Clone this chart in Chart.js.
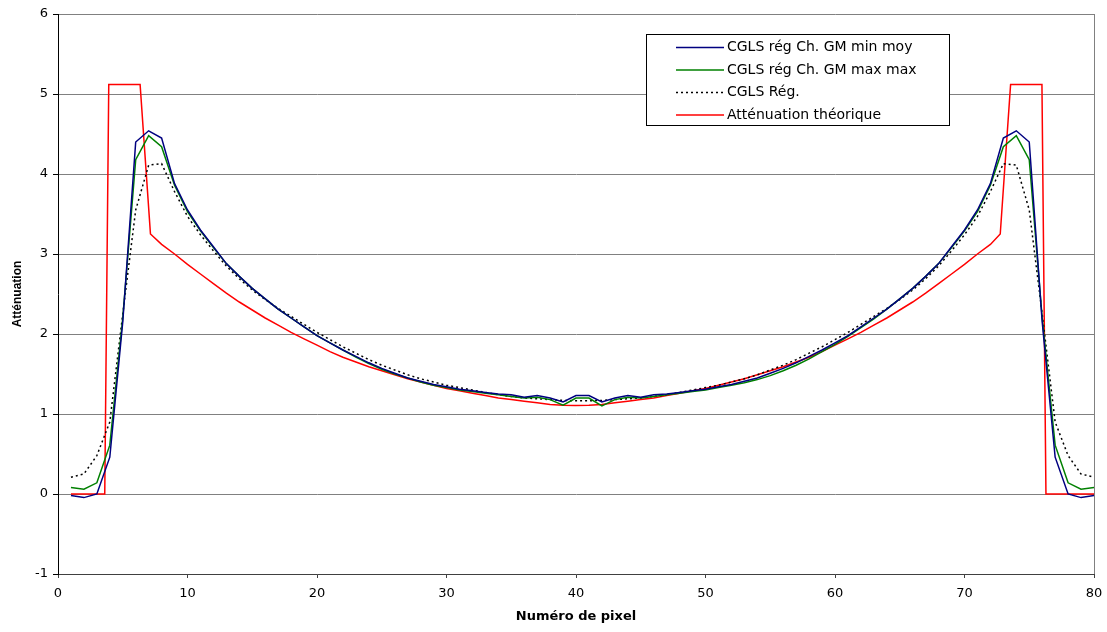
<!DOCTYPE html>
<html>
<head>
<meta charset="utf-8">
<script src="https://cdn.jsdelivr.net/npm/chart.js@4.4.1/dist/chart.umd.min.js"></script>
<style>
  html, body { margin: 0; padding: 0; background: #fff; }
  #wrap { width: 1107px; height: 632px; }
</style>
</head>
<body>
<div id="wrap"><canvas id="chart1" width="1107" height="632"></canvas></div>
<script>
// pixel numbers along the profile
var pixels = [1, 2, 3, 4, 5, 6, 7, 8, 9, 10, 11, 12, 13, 14, 15, 16, 17, 18, 19, 20,
  21, 22, 23, 24, 25, 26, 27, 28, 29, 30, 31, 32, 33, 34, 35, 36, 37, 38, 39, 40,
  41, 42, 43, 44, 45, 46, 47, 48, 49, 50, 51, 52, 53, 54, 55, 56, 57, 58, 59, 60,
  61, 62, 63, 64, 65, 66, 67, 68, 69, 70, 71, 72, 73, 74, 75, 76, 77, 78, 79, 80]

// CGLS rég Ch. GM min moy
var minMoy = [-0.02, -0.045, 0.0, 0.46, 2.15, 4.40, 4.54, 4.45, 3.88, 3.55,
  3.30, 3.09, 2.88, 2.72, 2.57, 2.44, 2.31, 2.20, 2.09, 1.98,
  1.89, 1.80, 1.72, 1.64, 1.57, 1.51, 1.45, 1.41, 1.37, 1.34,
  1.31, 1.29, 1.27, 1.25, 1.24, 1.21, 1.23, 1.20, 1.15, 1.23,
  1.23, 1.15, 1.20, 1.23, 1.21, 1.24, 1.25, 1.27, 1.29, 1.31,
  1.34, 1.37, 1.41, 1.45, 1.51, 1.57, 1.64, 1.72, 1.80, 1.89,
  1.98, 2.09, 2.20, 2.31, 2.44, 2.57, 2.72, 2.88, 3.09, 3.30,
  3.55, 3.88, 4.45, 4.54, 4.40, 2.15, 0.46, 0.0, -0.045, -0.02]

// CGLS rég Ch. GM max max
var maxMax = [0.08, 0.06, 0.14, 0.61, 2.20, 4.18, 4.48, 4.34, 3.86, 3.53,
  3.29, 3.08, 2.88, 2.72, 2.57, 2.44, 2.31, 2.20, 2.09, 1.98,
  1.89, 1.80, 1.71, 1.63, 1.56, 1.50, 1.45, 1.40, 1.36, 1.33,
  1.30, 1.28, 1.26, 1.24, 1.22, 1.20, 1.21, 1.18, 1.11, 1.20,
  1.20, 1.10, 1.18, 1.21, 1.20, 1.22, 1.24, 1.26, 1.28, 1.30,
  1.33, 1.36, 1.39, 1.43, 1.48, 1.54, 1.61, 1.69, 1.78, 1.87,
  1.97, 2.08, 2.19, 2.31, 2.44, 2.57, 2.72, 2.88, 3.08, 3.29,
  3.53, 3.86, 4.34, 4.48, 4.18, 2.20, 0.61, 0.14, 0.06, 0.08]

// CGLS Rég.
var cglsReg = [0.21, 0.25, 0.48, 0.90, 2.25, 3.55, 4.11, 4.13, 3.78, 3.47,
  3.24, 3.04, 2.85, 2.69, 2.55, 2.43, 2.32, 2.22, 2.12, 2.02,
  1.93, 1.84, 1.76, 1.68, 1.61, 1.55, 1.49, 1.44, 1.40, 1.36,
  1.33, 1.30, 1.27, 1.24, 1.22, 1.20, 1.19, 1.18, 1.17, 1.165,
  1.165, 1.17, 1.18, 1.19, 1.20, 1.22, 1.24, 1.27, 1.30, 1.33,
  1.36, 1.40, 1.44, 1.49, 1.55, 1.61, 1.68, 1.76, 1.84, 1.93,
  2.02, 2.12, 2.22, 2.32, 2.43, 2.55, 2.69, 2.85, 3.04, 3.24,
  3.47, 3.78, 4.13, 4.11, 3.55, 2.25, 0.90, 0.48, 0.25, 0.21]

// Atténuation théorique (own x positions)
var theoX = [1, 3.61, 3.92, 6.34, 7.14,
  8, 9, 10, 11, 12, 13, 14, 15, 16, 17, 18, 19, 20, 21, 22, 23,
  24, 25, 26, 27, 28, 29, 30, 31, 32, 33, 34, 35, 36, 37, 38, 39,
  39.95,
  41, 42, 43, 44, 45, 46, 47, 48, 49, 50, 51, 52, 53, 54, 55, 56,
  57, 58, 59, 60, 61, 62, 63, 64, 65, 66, 67, 68, 69, 70, 71, 72,
  72.76, 73.56, 75.98, 76.29, 80]
var theoY = [0, 0, 5.12, 5.12, 3.25,
  3.12, 3.00, 2.87, 2.75, 2.63, 2.51, 2.40, 2.30, 2.20, 2.11, 2.02, 1.94, 1.86, 1.78, 1.71, 1.65,
  1.59, 1.54, 1.49, 1.44, 1.40, 1.36, 1.32, 1.29, 1.26, 1.23, 1.20, 1.18, 1.16, 1.14, 1.12, 1.11,
  1.105,
  1.11, 1.12, 1.14, 1.16, 1.18, 1.20, 1.23, 1.26, 1.29, 1.32, 1.36, 1.40, 1.44, 1.49, 1.54, 1.59,
  1.65, 1.71, 1.78, 1.86, 1.94, 2.02, 2.11, 2.20, 2.30, 2.40, 2.51, 2.63, 2.75, 2.87, 3.00, 3.12,
  3.25, 5.12, 5.12, 0, 0]

var xTicks = [0, 10, 20, 30, 40, 50, 60, 70, 80]
var yTicks = [-1, 0, 1, 2, 3, 4, 5, 6]

function pts(xs, ys) {
  return ys.map(function (v, i) { return { x: xs[i], y: v } })
}

// legend box drawn inside the plot, plus the grey right frame
var boxLegend = {
  id: 'boxLegend',
  afterDraw: function (chart) {
    var ctx = chart.ctx
    var a = chart.chartArea
    ctx.save()
    ctx.strokeStyle = '#808080'
    ctx.lineWidth = 1
    ctx.beginPath()
    ctx.moveTo(Math.round(a.right) + 0.5, a.top)
    ctx.lineTo(Math.round(a.right) + 0.5, a.bottom)
    ctx.stroke()

    ctx.fillStyle = '#fff'
    ctx.fillRect(646.5, 34.5, 303, 91)
    ctx.strokeStyle = '#000'
    ctx.strokeRect(646.5, 34.5, 303, 91)

    ctx.font = '14px "DejaVu Sans"'
    ctx.textBaseline = 'middle'
    ctx.textAlign = 'left'
    chart.data.datasets.forEach(function (ds, i) {
      var y = 47.5 + i * 22.5
      ctx.strokeStyle = ds.borderColor
      ctx.lineWidth = 1.5
      ctx.setLineDash(ds.borderDash || [])
      ctx.beginPath()
      ctx.moveTo(676, y)
      ctx.lineTo(724, y)
      ctx.stroke()
      ctx.setLineDash([])
      ctx.fillStyle = '#000'
      ctx.fillText(ds.label, 727, y)
    })
    ctx.restore()
  }
}

var ctx = document.getElementById('chart1').getContext('2d')
var chart1 = new Chart(ctx, {
  type: 'line',
  data: {
    datasets: [{
      label: 'CGLS rég Ch. GM min moy',
      data: pts(pixels, minMoy),
      borderColor: '#000080',
      borderWidth: 1.5
    }, {
      label: 'CGLS rég Ch. GM max max',
      data: pts(pixels, maxMax),
      borderColor: '#008000',
      borderWidth: 1.5
    }, {
      label: 'CGLS Rég.',
      data: pts(pixels, cglsReg),
      borderColor: '#000000',
      borderWidth: 1.5,
      borderDash: [2, 3]
    }, {
      label: 'Atténuation théorique',
      data: pts(theoX, theoY),
      borderColor: '#ff0000',
      borderWidth: 1.5
    }]
  },
  options: {
    responsive: false,
    animation: false,
    events: [],
    elements: { point: { radius: 0 }, line: { tension: 0 } },
    layout: { padding: { top: 14, right: 13, left: 0, bottom: 0 } },
    plugins: { legend: { display: false }, tooltip: { enabled: false } },
    scales: {
      x: {
        type: 'linear',
        min: 0,
        max: 80,
        afterBuildTicks: function (s) { s.ticks = xTicks.map(function (v) { return { value: v } }) },
        afterFit: function (s) { s.height = 58; s.paddingLeft = 0; s.paddingRight = 0 },
        grid: { drawOnChartArea: false, tickLength: 4, color: '#404040' },
        border: { color: '#404040', width: 1 },
        ticks: { color: '#000', padding: 8, maxRotation: 0, font: { family: '"DejaVu Sans"', size: 13 } },
        title: {
          display: true,
          text: 'Numéro de pixel',
          color: '#000',
          padding: { top: 0, bottom: 8 },
          font: { family: '"DejaVu Sans"', size: 13, weight: 'bold' }
        }
      },
      y: {
        min: -1,
        max: 6,
        afterBuildTicks: function (s) { s.ticks = yTicks.map(function (v) { return { value: v } }) },
        afterFit: function (s) { s.width = 58; s.paddingTop = 0; s.paddingBottom = 0 },
        grid: { color: '#808080', tickColor: '#000', tickLength: 5 },
        border: { color: '#000', width: 1 },
        ticks: { color: '#000', padding: 5, font: { family: '"DejaVu Sans"', size: 13 } },
        title: {
          display: true,
          text: 'Atténuation',
          color: '#000',
          padding: { top: 10, bottom: 0 },
          font: { family: '"Liberation Sans"', size: 12, weight: 'bold' }
        }
      }
    }
  },
  plugins: [boxLegend]
})
</script>
</body>
</html>
